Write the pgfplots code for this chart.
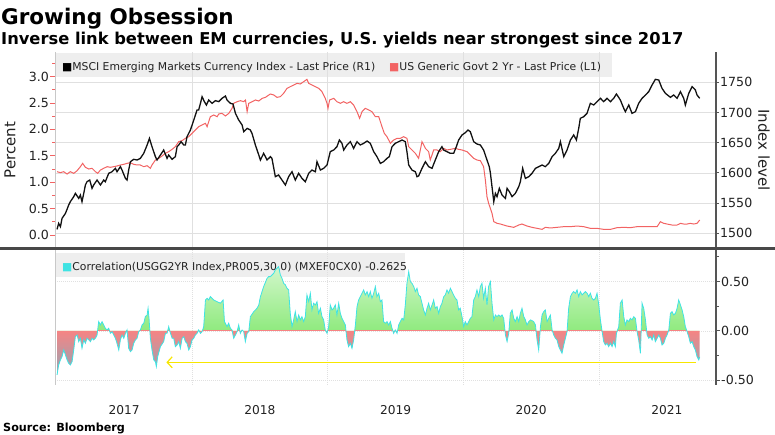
\documentclass[border=0pt]{standalone}
\usepackage{pgfplots}
\pgfplotsset{compat=1.18}
\usepackage{pgfplotstable}
\usepackage{fontspec}
\setmainfont{DejaVu Sans}
\usetikzlibrary{arrows.meta}

\definecolor{redline}{HTML}{F26363}
\definecolor{blackline}{HTML}{111111}
\definecolor{cyanline}{HTML}{3FE3E3}
\definecolor{gridc}{HTML}{E0E0E0}
\definecolor{axisdark}{HTML}{555555}
\definecolor{axislight}{HTML}{C8C8C8}
\definecolor{legbox}{HTML}{EEEEEE}
\definecolor{gz}{HTML}{8FEA7E}
\definecolor{gt}{HTML}{D2F7CB}
\definecolor{nz}{HTML}{F58484}
\definecolor{nb}{HTML}{93A6B6}
\definecolor{arrowy}{HTML}{F7E600}
\definecolor{textc}{HTML}{222222}

\pgfdeclareverticalshading{posshade}{100bp}{color(0bp)=(gz); color(45.3bp)=(gz); color(75bp)=(gt); color(100bp)=(gt)}
\pgfdeclareverticalshading{negshade}{100bp}{color(0bp)=(nb); color(25bp)=(nb); color(45.3bp)=(nz); color(100bp)=(nz)}

% US Generic Govt 2 Yr yield (percent)
\pgfplotstableread{
t v
2017.005 1.199
2017.030 1.181
2017.054 1.199
2017.079 1.155
2017.103 1.199
2017.128 1.168
2017.153 1.218
2017.177 1.294
2017.194 1.357
2017.214 1.282
2017.239 1.250
2017.263 1.263
2017.288 1.199
2017.305 1.168
2017.325 1.231
2017.349 1.263
2017.374 1.294
2017.398 1.282
2017.423 1.294
2017.447 1.307
2017.472 1.326
2017.496 1.338
2017.521 1.357
2017.546 1.370
2017.570 1.338
2017.595 1.326
2017.619 1.326
2017.644 1.294
2017.669 1.313
2017.693 1.263
2017.705 1.326
2017.730 1.420
2017.755 1.452
2017.779 1.496
2017.804 1.547
2017.828 1.578
2017.853 1.622
2017.877 1.673
2017.902 1.768
2017.927 1.787
2017.951 1.831
2017.976 1.862
2018.000 1.926
2018.025 1.989
2018.049 2.052
2018.074 2.083
2018.099 2.115
2018.111 2.052
2018.123 2.146
2018.135 2.241
2018.160 2.273
2018.185 2.241
2018.197 2.292
2018.221 2.304
2018.246 2.254
2018.271 2.304
2018.295 2.399
2018.307 2.494
2018.332 2.525
2018.357 2.544
2018.381 2.525
2018.394 2.557
2018.406 2.336
2018.418 2.494
2018.443 2.525
2018.467 2.557
2018.492 2.538
2018.517 2.588
2018.541 2.607
2018.566 2.652
2018.578 2.670
2018.602 2.652
2018.626 2.607
2018.651 2.620
2018.675 2.683
2018.700 2.778
2018.724 2.809
2018.749 2.841
2018.774 2.872
2018.798 2.860
2018.823 2.904
2018.847 2.948
2018.860 2.872
2018.884 2.841
2018.909 2.809
2018.933 2.778
2018.958 2.715
2018.982 2.588
2018.995 2.494
2019.002 2.399
2019.014 2.557
2019.044 2.588
2019.068 2.525
2019.093 2.494
2019.118 2.525
2019.142 2.494
2019.167 2.525
2019.191 2.462
2019.216 2.336
2019.235 2.210
2019.253 2.336
2019.277 2.399
2019.302 2.367
2019.326 2.336
2019.351 2.241
2019.376 2.241
2019.400 2.052
2019.417 1.926
2019.437 1.862
2019.462 1.736
2019.486 1.799
2019.511 1.831
2019.535 1.831
2019.560 1.862
2019.584 1.831
2019.597 1.673
2019.621 1.610
2019.646 1.547
2019.670 1.452
2019.695 1.768
2019.720 1.641
2019.744 1.578
2019.756 1.420
2019.781 1.610
2019.806 1.610
2019.830 1.578
2019.855 1.641
2019.879 1.610
2019.904 1.622
2019.941 1.641
2019.965 1.622
2019.990 1.610
2020.027 1.578
2020.051 1.515
2020.076 1.452
2020.100 1.420
2020.125 1.408
2020.149 1.294
2020.162 1.042
2020.174 0.726
2020.186 0.600
2020.199 0.505
2020.211 0.410
2020.224 0.253
2020.248 0.221
2020.273 0.208
2020.297 0.189
2020.322 0.170
2020.346 0.158
2020.371 0.145
2020.408 0.189
2020.432 0.208
2020.469 0.170
2020.506 0.145
2020.543 0.126
2020.580 0.107
2020.604 0.145
2020.641 0.133
2020.690 0.145
2020.740 0.158
2020.789 0.158
2020.838 0.170
2020.887 0.158
2020.936 0.126
2020.985 0.126
2021.034 0.107
2021.084 0.107
2021.133 0.139
2021.182 0.145
2021.231 0.139
2021.280 0.158
2021.329 0.158
2021.378 0.158
2021.428 0.158
2021.452 0.253
2021.477 0.221
2021.501 0.208
2021.538 0.189
2021.575 0.189
2021.600 0.221
2021.624 0.208
2021.649 0.208
2021.673 0.221
2021.698 0.208
2021.722 0.221
2021.742 0.284
}\redtab

% MSCI Emerging Markets Currency Index (index level)
\pgfplotstableread{
t v
2017.005 1506.5
2017.017 1516.5
2017.030 1511.0
2017.042 1524.8
2017.067 1533.0
2017.091 1546.8
2017.103 1552.4
2017.128 1560.6
2017.140 1566.2
2017.165 1557.9
2017.177 1563.4
2017.189 1552.4
2017.202 1566.2
2017.214 1580.0
2017.226 1585.5
2017.246 1588.2
2017.263 1574.4
2017.275 1580.0
2017.300 1588.2
2017.325 1580.0
2017.349 1588.2
2017.361 1585.5
2017.386 1599.3
2017.411 1602.0
2017.423 1604.8
2017.435 1607.6
2017.447 1602.0
2017.472 1610.3
2017.484 1604.8
2017.509 1591.0
2017.521 1588.2
2017.533 1604.8
2017.546 1618.6
2017.570 1622.5
2017.595 1621.4
2017.619 1624.1
2017.644 1632.4
2017.669 1646.2
2017.686 1657.2
2017.705 1643.4
2017.730 1626.9
2017.742 1621.4
2017.767 1629.6
2017.791 1637.9
2017.816 1624.1
2017.828 1629.6
2017.853 1622.5
2017.877 1626.9
2017.890 1643.4
2017.902 1646.2
2017.919 1651.7
2017.939 1646.2
2017.951 1646.2
2017.963 1660.0
2017.988 1671.0
2018.013 1687.6
2018.037 1704.2
2018.049 1704.2
2018.062 1715.2
2018.074 1726.2
2018.091 1718.0
2018.106 1712.4
2018.123 1720.7
2018.148 1715.2
2018.172 1719.6
2018.197 1718.0
2018.221 1723.5
2018.246 1727.3
2018.258 1720.7
2018.283 1715.2
2018.302 1714.1
2018.320 1698.6
2018.344 1687.6
2018.369 1679.3
2018.381 1668.3
2018.406 1673.8
2018.430 1671.0
2018.442 1665.5
2018.467 1646.2
2018.492 1629.6
2018.504 1621.4
2018.528 1632.4
2018.553 1621.4
2018.578 1626.9
2018.589 1624.1
2018.614 1593.8
2018.638 1596.5
2018.663 1588.2
2018.688 1580.0
2018.712 1593.8
2018.737 1602.0
2018.761 1588.2
2018.786 1599.3
2018.810 1591.0
2018.835 1585.5
2018.860 1599.3
2018.884 1604.8
2018.909 1602.0
2018.921 1618.6
2018.946 1604.8
2018.970 1607.6
2018.995 1613.1
2019.019 1635.2
2019.044 1637.9
2019.068 1643.4
2019.086 1654.5
2019.105 1649.0
2019.118 1637.9
2019.142 1646.2
2019.167 1651.7
2019.191 1640.7
2019.216 1651.7
2019.240 1646.2
2019.265 1649.0
2019.290 1652.8
2019.314 1649.0
2019.339 1635.2
2019.363 1626.9
2019.388 1615.8
2019.412 1618.6
2019.437 1624.1
2019.454 1626.9
2019.474 1643.4
2019.498 1649.0
2019.523 1651.7
2019.548 1654.5
2019.572 1651.7
2019.584 1635.2
2019.597 1613.1
2019.621 1604.8
2019.646 1602.0
2019.658 1593.8
2019.670 1594.9
2019.695 1607.6
2019.720 1618.6
2019.744 1610.3
2019.769 1607.6
2019.793 1621.4
2019.818 1635.2
2019.842 1643.4
2019.855 1637.9
2019.879 1635.2
2019.904 1632.4
2019.928 1632.4
2019.948 1643.4
2019.965 1654.5
2019.990 1662.8
2020.014 1666.6
2020.034 1671.0
2020.051 1668.3
2020.076 1651.7
2020.100 1647.9
2020.125 1646.2
2020.149 1637.9
2020.174 1621.4
2020.191 1610.3
2020.199 1600.0
2020.211 1577.2
2020.224 1552.4
2020.236 1566.2
2020.248 1560.6
2020.265 1574.4
2020.285 1563.4
2020.310 1557.9
2020.322 1574.4
2020.339 1568.9
2020.359 1560.6
2020.383 1566.2
2020.408 1577.2
2020.420 1585.5
2020.437 1607.6
2020.457 1591.0
2020.482 1593.8
2020.506 1599.3
2020.531 1607.6
2020.555 1610.3
2020.580 1613.1
2020.604 1610.3
2020.629 1615.8
2020.654 1626.9
2020.678 1632.4
2020.703 1640.7
2020.715 1651.7
2020.740 1626.9
2020.764 1637.9
2020.789 1654.5
2020.813 1662.8
2020.833 1654.5
2020.850 1673.8
2020.862 1690.4
2020.887 1693.1
2020.911 1698.6
2020.936 1715.2
2020.961 1712.4
2020.985 1718.0
2021.010 1723.5
2021.034 1718.0
2021.059 1723.5
2021.084 1718.0
2021.108 1723.5
2021.128 1730.7
2021.157 1720.7
2021.182 1706.9
2021.194 1701.4
2021.219 1712.4
2021.243 1698.6
2021.268 1701.4
2021.292 1715.2
2021.317 1723.5
2021.342 1729.0
2021.366 1734.5
2021.391 1745.6
2021.415 1754.9
2021.440 1753.8
2021.464 1740.0
2021.489 1731.8
2021.526 1725.1
2021.550 1729.0
2021.575 1723.5
2021.600 1734.5
2021.624 1723.5
2021.636 1712.4
2021.661 1731.8
2021.686 1742.8
2021.710 1737.3
2021.722 1729.0
2021.742 1723.5
}\blacktab

% 30-day correlation
\pgfplotstableread{
t v
2017.005 -0.446
2017.017 -0.345
2017.030 -0.294
2017.042 -0.260
2017.054 -0.193
2017.067 -0.243
2017.079 -0.294
2017.091 -0.328
2017.103 -0.345
2017.116 -0.311
2017.128 -0.193
2017.140 -0.058
2017.153 -0.041
2017.165 -0.108
2017.177 -0.074
2017.189 -0.176
2017.202 -0.091
2017.214 -0.125
2017.226 -0.074
2017.239 -0.091
2017.251 -0.108
2017.263 -0.074
2017.275 -0.091
2017.288 -0.074
2017.300 -0.041
2017.312 0.095
2017.325 0.061
2017.337 0.095
2017.349 0.061
2017.361 0.027
2017.374 0.010
2017.386 0.027
2017.398 -0.024
2017.411 -0.007
2017.423 -0.041
2017.435 -0.074
2017.447 -0.125
2017.460 -0.193
2017.472 -0.091
2017.484 -0.041
2017.497 -0.074
2017.509 -0.024
2017.521 0.010
2017.533 -0.176
2017.546 -0.210
2017.558 -0.193
2017.570 -0.125
2017.583 -0.091
2017.595 -0.074
2017.607 -0.007
2017.619 0.010
2017.632 0.061
2017.644 0.078
2017.656 0.145
2017.669 0.162
2017.676 0.230
2017.683 0.128
2017.693 -0.074
2017.705 -0.193
2017.718 -0.294
2017.730 -0.311
2017.737 -0.362
2017.747 -0.260
2017.767 -0.159
2017.791 -0.108
2017.804 -0.024
2017.816 -0.024
2017.828 0.044
2017.841 -0.024
2017.853 -0.074
2017.865 -0.074
2017.877 -0.159
2017.890 -0.142
2017.902 -0.108
2017.914 -0.176
2017.927 -0.074
2017.939 -0.058
2017.951 -0.108
2017.963 -0.125
2017.976 -0.193
2017.988 -0.159
2018.000 -0.091
2018.013 -0.074
2018.025 -0.041
2018.037 -0.024
2018.049 0.010
2018.062 -0.024
2018.074 -0.007
2018.086 0.044
2018.099 0.314
2018.111 0.331
2018.123 0.314
2018.135 0.348
2018.160 0.314
2018.185 0.297
2018.209 0.281
2018.229 0.314
2018.239 0.095
2018.258 0.044
2018.270 0.078
2018.283 0.027
2018.295 0.010
2018.307 -0.074
2018.320 -0.041
2018.332 -0.007
2018.344 0.061
2018.356 -0.024
2018.369 0.010
2018.381 -0.007
2018.393 -0.108
2018.406 -0.024
2018.418 -0.007
2018.430 0.145
2018.455 0.196
2018.479 0.230
2018.492 0.264
2018.504 0.348
2018.528 0.450
2018.553 0.534
2018.565 0.551
2018.577 0.551
2018.602 0.585
2018.614 0.619
2018.626 0.635
2018.638 0.652
2018.651 0.568
2018.663 0.534
2018.675 0.483
2018.688 0.467
2018.700 0.433
2018.712 0.416
2018.724 0.179
2018.737 0.044
2018.749 0.112
2018.761 0.196
2018.774 0.095
2018.786 0.162
2018.798 0.112
2018.810 0.145
2018.823 0.095
2018.835 0.145
2018.847 0.365
2018.860 0.297
2018.872 0.382
2018.884 0.213
2018.896 0.281
2018.909 0.264
2018.921 0.297
2018.933 0.179
2018.946 0.230
2018.958 0.145
2018.970 0.112
2018.982 0.010
2018.995 -0.024
2019.007 0.044
2019.019 0.264
2019.032 0.213
2019.044 0.230
2019.056 0.264
2019.068 0.162
2019.081 0.281
2019.093 0.179
2019.105 0.128
2019.118 0.095
2019.130 0.061
2019.142 -0.091
2019.154 -0.159
2019.167 -0.125
2019.179 -0.176
2019.191 -0.091
2019.204 0.061
2019.216 0.247
2019.228 0.314
2019.240 0.348
2019.253 0.382
2019.265 0.416
2019.277 0.365
2019.290 0.399
2019.302 0.348
2019.314 0.399
2019.326 0.331
2019.339 0.382
2019.351 0.450
2019.363 0.348
2019.376 0.382
2019.388 0.297
2019.400 0.314
2019.412 0.095
2019.425 0.078
2019.437 0.095
2019.449 0.061
2019.462 0.095
2019.474 0.027
2019.486 -0.024
2019.498 0.010
2019.511 -0.024
2019.523 0.061
2019.535 0.095
2019.548 0.128
2019.560 0.112
2019.572 0.264
2019.584 0.483
2019.597 0.602
2019.609 0.500
2019.621 0.483
2019.634 0.450
2019.646 0.399
2019.658 0.433
2019.670 0.365
2019.683 0.348
2019.695 0.281
2019.707 0.213
2019.720 0.162
2019.732 0.230
2019.744 0.281
2019.756 0.213
2019.769 0.264
2019.781 0.314
2019.793 0.230
2019.806 0.247
2019.818 0.179
2019.830 0.247
2019.842 0.281
2019.855 0.348
2019.867 0.365
2019.879 0.416
2019.891 0.382
2019.904 0.433
2019.916 0.399
2019.928 0.365
2019.941 0.331
2019.953 0.314
2019.965 0.213
2019.977 0.230
2019.990 0.145
2020.002 0.044
2020.014 0.095
2020.027 0.061
2020.039 0.095
2020.051 0.128
2020.063 0.145
2020.076 0.314
2020.088 0.348
2020.100 0.416
2020.113 0.348
2020.125 0.450
2020.137 0.483
2020.149 0.331
2020.162 0.433
2020.174 0.264
2020.186 0.450
2020.199 0.500
2020.211 0.281
2020.224 0.112
2020.236 0.162
2020.248 0.145
2020.260 0.162
2020.273 0.145
2020.285 0.162
2020.297 0.128
2020.310 -0.041
2020.322 -0.108
2020.334 -0.024
2020.346 0.179
2020.359 0.213
2020.371 0.128
2020.383 0.095
2020.396 0.145
2020.408 0.095
2020.420 0.179
2020.432 0.230
2020.445 0.145
2020.457 0.112
2020.469 0.061
2020.482 0.095
2020.494 0.112
2020.506 0.105
2020.518 0.095
2020.531 0.061
2020.543 -0.091
2020.555 -0.193
2020.568 0.044
2020.580 0.162
2020.592 0.196
2020.604 0.213
2020.617 0.095
2020.629 0.128
2020.641 0.162
2020.654 0.010
2020.666 -0.041
2020.678 -0.074
2020.690 -0.091
2020.703 -0.159
2020.715 -0.193
2020.727 -0.226
2020.740 -0.142
2020.752 -0.074
2020.764 -0.007
2020.776 0.230
2020.789 0.348
2020.801 0.382
2020.813 0.399
2020.826 0.382
2020.838 0.416
2020.850 0.348
2020.862 0.399
2020.875 0.365
2020.887 0.382
2020.899 0.399
2020.912 0.382
2020.924 0.348
2020.936 0.382
2020.948 0.331
2020.961 0.314
2020.973 0.331
2020.985 0.382
2020.998 0.264
2021.010 0.112
2021.022 0.000
2021.034 -0.108
2021.047 -0.142
2021.059 -0.125
2021.071 -0.159
2021.084 -0.125
2021.096 -0.159
2021.108 -0.108
2021.120 -0.159
2021.128 -0.024
2021.145 0.044
2021.157 0.281
2021.170 0.314
2021.182 0.145
2021.194 0.061
2021.206 0.112
2021.219 0.095
2021.231 0.128
2021.243 0.112
2021.256 0.145
2021.268 0.128
2021.280 -0.007
2021.292 -0.091
2021.305 -0.226
2021.317 0.281
2021.329 0.230
2021.342 0.112
2021.354 -0.041
2021.366 -0.074
2021.378 -0.058
2021.391 -0.091
2021.403 -0.041
2021.415 -0.108
2021.428 -0.074
2021.440 -0.041
2021.452 -0.074
2021.464 -0.142
2021.477 -0.125
2021.489 -0.074
2021.501 -0.041
2021.514 0.010
2021.526 0.179
2021.538 0.196
2021.550 0.162
2021.563 0.179
2021.575 0.230
2021.587 0.314
2021.600 0.264
2021.612 0.213
2021.624 0.145
2021.636 0.044
2021.649 -0.007
2021.661 -0.058
2021.673 -0.125
2021.686 -0.108
2021.698 -0.159
2021.710 -0.193
2021.722 -0.260
2021.735 -0.294
2021.742 -0.2625
}\corrtab

\pgfplotsset{
  panel/.style={scale only axis, width=661pt, xmin=2016.99, xmax=2021.862,
    anchor=south west,
    tick label style={font=\fontsize{12.6}{14}\selectfont, text=textc}},
}

\begin{document}
\begin{tikzpicture}[x=1pt,y=1pt]
\path[use as bounding box] (0,0) rectangle (775,435);

% titles
\node[anchor=base west, inner sep=0, font=\fontsize{21.5}{24}\selectfont\bfseries] at (1,410) {Growing Obsession};
\node[anchor=base west, inner sep=0, font=\fontsize{16.3}{19}\selectfont\bfseries] at (1,390) {Inverse link between EM currencies, U.S. yields near strongest since 2017};
\node[anchor=base west, inner sep=0, font=\fontsize{11.2}{13}\selectfont\bfseries] at (3,3) {Source: Bloomberg};

% legend boxes (under the data)
\fill[legbox] (55,358) rectangle (612,382);
\fill[legbox] (55,158) rectangle (405,182);

% axis titles
\node[rotate=90, font=\fontsize{15}{17}\selectfont, text=textc] at (10,285) {Percent};
\node[rotate=-90, font=\fontsize{15}{17}\selectfont, text=textc] at (764,285) {Index level};

% ---- top panel: grid
\begin{axis}[panel, at={(55pt,187pt)}, height=196pt, ymin=1475.7, ymax=1800.2,
  axis line style={draw=none}, xtick={2018,2019,2020,2021}, xticklabels={},
  ytick={1500,1550,...,1750}, yticklabels={}, major tick length=0pt,
  grid=major, grid style={gridc, line width=0.6pt}]
\end{axis}

% ---- bottom panel: grid, left line, year labels
\begin{axis}[panel, at={(55pt,50pt)}, height=135pt, ymin=-0.548, ymax=0.821,
  axis x line*=bottom, axis y line*=left,
  x axis line style={draw=none}, y axis line style={axislight, line width=0.8pt},
  xtick={2017.5,2018.5,2019.5,2020.5,2021.5}, xticklabels={2017,2018,2019,2020,2021},
  extra x ticks={2018,2019,2020,2021}, extra x tick labels={},
  extra x tick style={grid=major},
  ytick={-0.5,0,0.5}, yticklabels={}, ymajorgrids,
  grid style={gridc, line width=0.7pt, dash pattern=on 1.2pt off 0.8pt},
  major tick length=0pt,
  xticklabel style={yshift=-17pt, font=\fontsize{12.2}{14}\selectfont}]
\end{axis}

% legend texts (over the grid)
\node[anchor=base west, inner sep=0, font=\fontsize{10.8}{12}\selectfont, text=textc] at (62,364) {\textcolor{black}{■}MSCI Emerging Markets Currency Index - Last Price (R1)};
\node[anchor=base west, inner sep=0, font=\fontsize{10.8}{12}\selectfont, text=textc] at (389,364) {\textcolor{redline}{■}US Generic Govt 2 Yr - Last Price (L1)};
\node[anchor=base west, inner sep=0, font=\fontsize{10.8}{12}\selectfont, text=textc] at (62,164) {\textcolor{cyanline}{■}Correlation(USGG2YR Index,PR005,30,0) (MXEF0CX0) -0.2625};

% ---- top panel: left axis, 2-year yield
\begin{axis}[panel, at={(55pt,187pt)}, height=196pt, ymin=-0.246, ymax=3.466,
  axis x line=none, axis y line*=left,
  y axis line style={axislight, line width=0.8pt},
  ytick={0,0.5,1,1.5,2,2.5,3}, yticklabels={0.0,0.5,1.0,1.5,2.0,2.5,3.0},
  minor ytick={0.25,0.75,1.25,1.75,2.25,2.75,3.25},
  tick align=outside, major tick length=5pt, minor tick length=3pt,
  ytick style={redline, line width=0.8pt},
  yticklabel style={inner xsep=1pt}]
\addplot[redline, line width=1pt] table {\redtab};
\end{axis}

% ---- top panel: right axis, EM currency index
\begin{axis}[panel, at={(55pt,187pt)}, height=196pt, ymin=1475.7, ymax=1800.2,
  axis x line=none, axis y line*=right,
  y axis line style={axisdark, line width=1.2pt},
  ytick={1500,1550,1600,1650,1700,1750}, yticklabels={1500,1550,1600,1650,1700,1750},
  tick align=outside, major tick length=3pt,
  ytick style={axisdark, line width=1pt},
  yticklabel style={inner xsep=1pt}]
\addplot[blackline, line width=1.3pt] table {\blacktab};
\end{axis}

% ---- bottom panel: correlation
\begin{axis}[panel, at={(55pt,50pt)}, height=135pt, ymin=-0.548, ymax=0.821,
  axis x line=none, axis y line*=right,
  y axis line style={axisdark, line width=1.2pt},
  ytick={-0.5,0,0.5}, yticklabels={-0.50,0.00,0.50},
  minor ytick={-0.25,0.25,0.75},
  tick align=outside, major tick length=4pt, minor tick length=3pt,
  ytick style={axisdark, line width=1pt},
  yticklabel style={inner xsep=1pt}]
\begin{scope}
\clip (axis cs:2016.9,0) rectangle (axis cs:2022,0.9);
\addplot[draw=none, shade, shading=posshade] table {\corrtab} \closedcycle;
\end{scope}
\begin{scope}
\clip (axis cs:2016.9,-0.6) rectangle (axis cs:2022,0);
\addplot[draw=none, shade, shading=negshade] table {\corrtab} \closedcycle;
\end{scope}
\addplot[cyanline, line width=0.8pt] table {\corrtab};
\addplot[arrowy, line width=1.2pt, -{Straight Barb[length=5pt,width=11pt]}] coordinates {(2021.712,-0.318) (2017.811,-0.318)};
\end{axis}

% separator between panels
\draw[line width=3pt, color=axisdark!85!black] (0,186.5) -- (775,186.5);
\end{tikzpicture}
\end{document}
